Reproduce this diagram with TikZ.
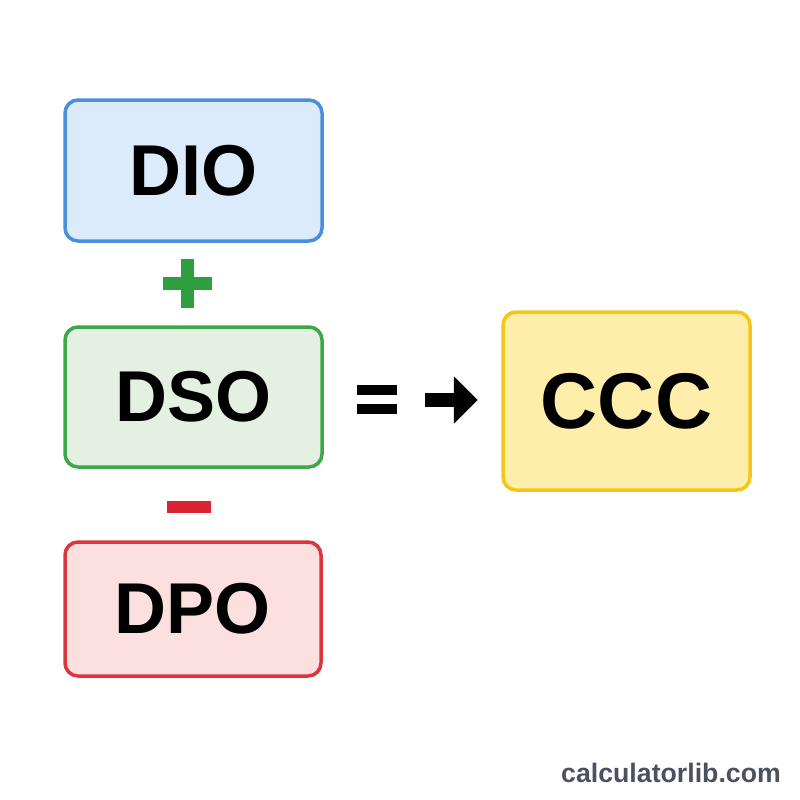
\documentclass[tikz,border=0pt]{standalone}
\usepackage{fontspec}
\setmainfont{Liberation Sans}
\usetikzlibrary{arrows.meta}
\definecolor{dioline}{HTML}{4A8FDB}
\definecolor{diofill}{HTML}{DCEBFC}
\definecolor{dsoline}{HTML}{3DA84A}
\definecolor{dsofill}{HTML}{E4F1E2}
\definecolor{dpoline}{HTML}{D9363E}
\definecolor{dpofill}{HTML}{FCE0E0}
\definecolor{cccline}{HTML}{F5C518}
\definecolor{cccfill}{HTML}{FEEEAA}
\definecolor{plusgreen}{HTML}{2E9E3E}
\definecolor{minusred}{HTML}{DA2333}
\definecolor{markgrey}{HTML}{4B5160}
\begin{document}
\begin{tikzpicture}[x=1pt,y=-1pt]
      \tikzset{termbox/.style={draw, line width=3.5pt, rounded corners=13pt, inner sep=0pt,
          font=\fontsize{72}{72}\selectfont\bfseries}}
      \fill [white] (0,0) rectangle (800,800);
      \useasboundingbox (0,0) rectangle (800,800);
      % the three terms on the left
      \node (dio) [termbox, draw=dioline, fill=diofill, minimum width=257pt, minimum height=141pt] at (193.5,170.5) {DIO};
      \node (dso) [termbox, draw=dsoline, fill=dsofill, minimum width=257pt, minimum height=140pt] at (193.5,397) {DSO};
      \node (dpo) [termbox, draw=dpoline, fill=dpofill, minimum width=256pt, minimum height=134pt] at (193,609) {DPO};
      % the result
      \node (ccc) [termbox, draw=cccline, fill=cccfill, minimum width=247pt, minimum height=178pt,
          font=\fontsize{79}{79}\selectfont\bfseries] at (626.5,401) {CCC};
      % signs
      \fill [plusgreen] (162.5,276.5) rectangle (211.5,289.5);
      \fill [plusgreen] (180.5,259) rectangle (193.5,307.5);
      \fill [minusred] (167,501) rectangle (211,513);
      \fill [black] (357,385) rectangle (397,395);
      \fill [black] (357,404) rectangle (397,414);
      \coordinate (arrowstart) at (425,400);
      \draw [line width=13.3pt, -{Triangle[length=24pt, width=46pt]}, shorten >=23.5pt] (arrowstart) -- (ccc.west |- arrowstart);
      \node (mark) [anchor=base east, inner sep=0pt, text=markgrey, font=\fontsize{26.7}{26.7}\selectfont\bfseries] at (781,782) {calculatorlib.com};
    \end{tikzpicture}
\end{document}
